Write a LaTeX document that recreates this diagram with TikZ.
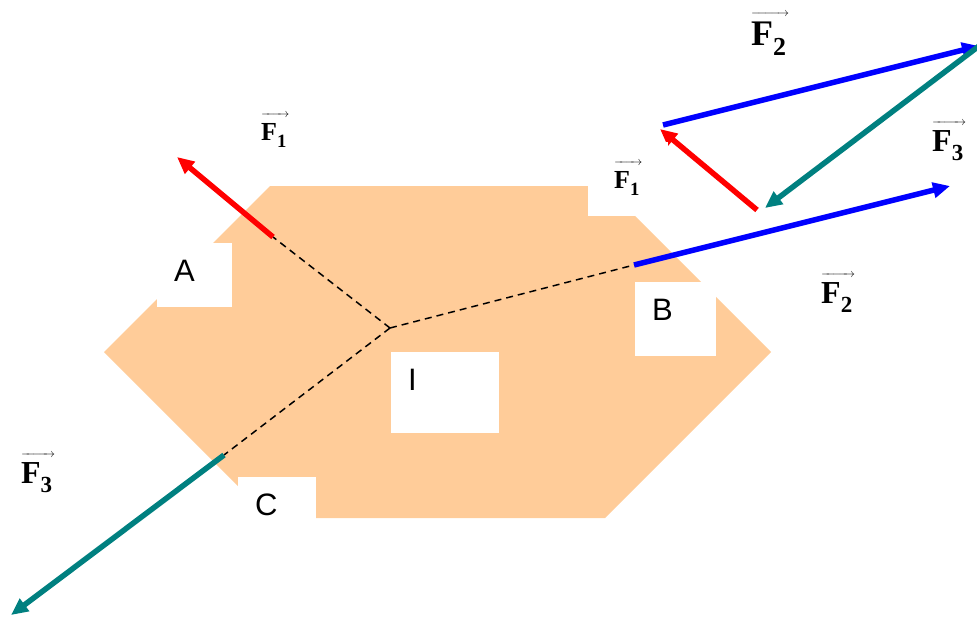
\documentclass[tikz,border=0pt]{standalone}
\usepackage{amsmath}
\usepackage{graphicx}
\usepackage{fontspec}
\setmainfont{Liberation Serif}
\setsansfont{Liberation Sans}
\usepackage{tikz}
\usetikzlibrary{arrows.meta}
\definecolor{plateor}{RGB}{255,204,153}
\definecolor{fred}{RGB}{255,0,0}
\definecolor{fblue}{RGB}{0,0,255}
\definecolor{fteal}{RGB}{0,128,128}
\newsavebox\flabbox
\newcommand\fvec[1]{%
  \sbox\flabbox{\textbf{F\raisebox{-0.3em}{\scalebox{0.72}{#1}}}}%
  \vbox{\offinterlineskip
    \hbox to \dimexpr\wd\flabbox+3pt\relax{\fontsize{13}{13}\selectfont\rightarrowfill}%
    \vskip 5pt
    \copy\flabbox}}
\tikzset{
  plate/.style={fill=plateor, draw=none},
  tagbox/.style={
    fill=white, anchor=north west, align=left,
    inner xsep=17pt, inner ysep=16pt, text height=22pt,
    font=\fontsize{31}{31}\selectfont\sffamily
  },
  flab/.style={inner sep=0pt, anchor=base west, font=\fontsize{#1}{#1}\selectfont},
  flab/.default=26,
  force/.style={-{Triangle[length=17pt,width=15pt]}, line width=5.5pt},
  arm/.style={dash pattern=on 7pt off 5pt, line width=1.5pt}
}

\begin{document}
\begin{tikzpicture}[x=1pt, y=-1pt]
  \useasboundingbox (0,0) rectangle (977,616);
  % the plate
  \fill[plate] (104,352) -- (270,186) -- (605,186) -- (771,352)
    -- (605,518) -- (270,518) -- cycle;
  \node[tagbox, text width=41pt, text depth=10pt] (tagA) at (157,243) {A};
  \node[tagbox, text width=47pt, text depth=20pt] (tagB) at (635,282) {B};
  \node[tagbox, text width=74pt, text depth=27pt] (tagI) at (391,352) {I};
  \node[tagbox, text width=44pt, text depth=0pt] (tagC) at (238,477) {C};
  % points of application
  \coordinate (ctr) at (390,328);
  \coordinate (ptA) at (273,237);
  \coordinate (ptB) at (634,265);
  \coordinate (ptC) at (224,455);
  \coordinate (tipA) at (177,157);
  \coordinate (tipB) at (950,186);
  \coordinate (tipC) at (11,615);
  \draw[arm] (ctr) -- (ptA);
  \draw[arm] (ctr) -- (ptB);
  \draw[arm] (ctr) -- (ptC);
  \draw[force, fred] (ptA) -- (tipA);
  \draw[force, fblue] (ptB) -- (tipB);
  \draw[force, fteal] (ptC) -- (tipC);
  % closed triangle of forces
  \coordinate (trB) at (663,125);
  \coordinate (trC) at (979,46);
  \coordinate (trA) at (765,208);
  \coordinate (trA2) at (757,210);
  \coordinate (trB2) at (660,129);
  \draw[force, fblue] (trB) -- (trC);
  \draw[force, fteal] (trC) -- (trA);
  \draw[force, fred] (trA2) -- (trB2);
  % labels
  \node[flab] (lF1a) at (261,140) {\fvec{1}};
  \node[flab=32] (lF3a) at (21,483) {\fvec{3}};
  \node[flab=32] (lF2a) at (821,303) {\fvec{2}};
  \node[flab, fill=white, inner xsep=26pt, inner ysep=20pt] (lF1b) at (588,188) {\fvec{1}};
  \node[flab=36] (lF2b) at (751,45) {\fvec{2}};
  \node[flab=32] (lF3b) at (932,151) {\fvec{3}};
\end{tikzpicture}
\end{document}
